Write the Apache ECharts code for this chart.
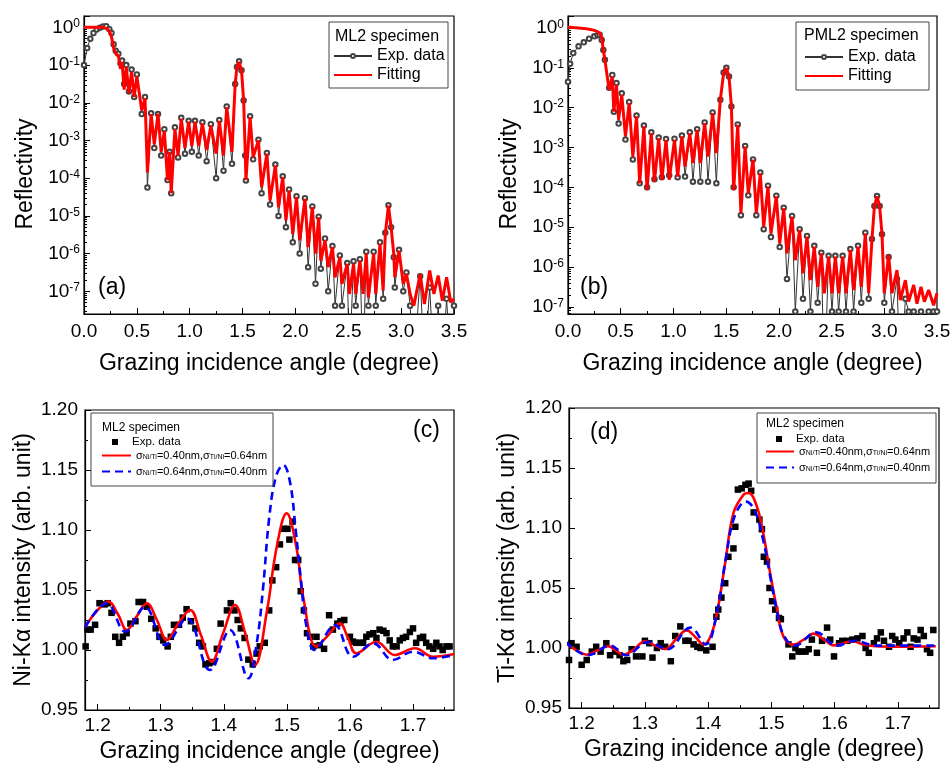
<!DOCTYPE html>
<html>
<head>
<meta charset="utf-8">
<script src="https://cdn.jsdelivr.net/npm/echarts@6/dist/echarts.min.js"></script>
<style>html,body{margin:0;background:#fff}#chart{width:950px;height:765px}</style>
</head>
<body>
<div id="chart"></div>
<script>
// (a) ML2 specimen reflectivity: angle (deg) and log10(R)
var mlAngle = [0.00,0.03,0.06,0.09,0.12,0.15,0.18,0.21,0.24,0.26,0.28,0.30,0.325,0.345,0.36,0.38,0.40,0.425,0.45,0.475,0.50,0.546,0.577,0.60,0.635,0.665,0.70,0.73,0.76,0.79,0.81,0.825,0.86,0.89,0.92,0.955,0.99,1.02,1.05,1.085,1.12,1.16,1.20,1.25,1.28,1.32,1.35,1.40,1.43,1.447,1.467,1.49,1.51,1.525,1.532,1.571,1.60,1.65,1.68,1.73,1.76,1.81,1.84,1.88,1.91,1.94,1.975,2.01,2.04,2.09,2.12,2.16,2.19,2.22,2.24,2.28,2.31,2.35,2.375,2.42,2.44,2.49,2.51,2.55,2.57,2.61,2.64,2.67,2.69,2.74,2.76,2.80,2.83,2.85,2.88,2.905,2.93,2.94,2.98,3.02,3.05,3.085,3.12,3.18,3.22,3.27,3.31,3.35,3.39,3.43,3.47,3.50];
var mlFitLog = [0,0,0,0,0,0,0,-0.02,-0.10,-0.25,-0.55,-0.70,-0.75,-1.10,-0.92,-1.65,-1.05,-1.75,-1.18,-1.85,-1.30,-2.20,-1.88,-3.85,-2.30,-3.10,-2.29,-3.30,-2.75,-4.05,-3.30,-4.40,-2.70,-3.40,-2.42,-3.20,-2.50,-3.15,-2.50,-3.15,-2.55,-3.25,-2.60,-3.35,-2.48,-3.40,-2.12,-3.30,-1.50,-1.05,-0.92,-1.14,-1.94,-3.30,-4.05,-2.38,-3.44,-3.00,-4.24,-3.35,-4.59,-3.66,-4.77,-3.97,-5.12,-4.33,-5.48,-4.50,-5.65,-4.55,-5.83,-4.77,-6.00,-5.04,-6.19,-5.65,-6.36,-5.83,-6.63,-6.10,-6.80,-6.27,-7.07,-6.27,-7.07,-6.19,-7.07,-6.00,-7.16,-6.00,-7.07,-5.74,-6.98,-5.48,-4.73,-5.30,-6.00,-6.63,-5.92,-6.80,-6.54,-7.07,-7.38,-6.54,-7.34,-6.45,-7.07,-6.58,-7.25,-6.63,-7.30,-7.20];
var mlExpLog = [-1.00,-0.55,-0.30,-0.15,-0.06,-0.01,0.02,0.03,-0.05,-0.15,-0.45,-0.62,-0.70,-0.95,-0.88,-1.50,-1.00,-1.70,-1.12,-1.85,-1.25,-2.30,-1.85,-4.25,-2.28,-3.20,-2.30,-3.40,-2.70,-4.05,-3.30,-4.40,-2.65,-3.45,-2.40,-3.35,-2.48,-3.30,-2.48,-3.40,-2.52,-3.55,-2.57,-4.00,-2.46,-3.80,-2.10,-3.62,-1.50,-1.05,-0.90,-1.14,-1.94,-3.40,-4.06,-2.36,-3.50,-2.98,-4.40,-3.33,-4.70,-3.64,-5.00,-3.95,-5.30,-4.30,-5.70,-4.48,-6.00,-4.53,-6.36,-4.75,-6.80,-5.02,-6.40,-5.60,-7.00,-5.80,-7.38,-6.05,-7.38,-6.25,-9,-6.20,-7.38,-6.15,-9,-5.95,-7.38,-5.95,-7.38,-5.70,-7.20,-5.45,-4.72,-5.30,-6.10,-6.90,-5.90,-7.00,-6.50,-7.38,-9,-6.60,-9,-6.90,-9,-7.38,-9,-7.20,-9,-7.38];

// (b) PML2 specimen reflectivity
var pmlAngle = [0.00,0.02,0.05,0.10,0.15,0.20,0.25,0.28,0.30,0.32,0.335,0.35,0.39,0.42,0.435,0.46,0.48,0.51,0.545,0.58,0.615,0.65,0.68,0.72,0.75,0.79,0.82,0.86,0.89,0.93,0.96,1.01,1.04,1.08,1.11,1.155,1.185,1.225,1.255,1.296,1.328,1.372,1.407,1.445,1.476,1.502,1.527,1.55,1.571,1.61,1.64,1.68,1.71,1.755,1.786,1.824,1.856,1.897,1.925,1.976,2.008,2.046,2.077,2.125,2.156,2.197,2.229,2.267,2.299,2.336,2.368,2.403,2.431,2.472,2.504,2.536,2.567,2.605,2.637,2.678,2.709,2.751,2.782,2.82,2.852,2.883,2.906,2.931,2.956,2.978,3.00,3.041,3.073,3.12,3.152,3.20,3.231,3.279,3.31,3.348,3.38,3.421,3.468,3.50];
var pmlFitLog = [0.02,0.02,0.01,0,-0.01,-0.03,-0.06,-0.09,-0.13,-0.25,-0.55,-0.80,-1.55,-1.22,-2.10,-1.42,-2.30,-1.68,-2.72,-1.89,-3.23,-2.22,-3.90,-2.47,-4.07,-2.64,-3.86,-2.77,-3.81,-2.81,-3.81,-2.81,-3.73,-2.72,-3.48,-2.64,-3.39,-2.56,-3.39,-2.39,-3.23,-2.14,-3.14,-1.80,-1.13,-1.01,-1.22,-1.97,-4.07,-2.43,-4.65,-2.98,-4.15,-3.31,-4.65,-3.65,-4.99,-3.98,-5.16,-4.23,-5.41,-4.53,-5.66,-4.74,-5.83,-5.07,-6.16,-5.24,-6.33,-5.49,-6.50,-5.66,-6.66,-5.74,-6.66,-5.74,-6.66,-5.74,-6.66,-5.57,-6.58,-5.49,-6.50,-5.16,-6.66,-5.32,-4.48,-4.23,-4.48,-5.16,-6.66,-5.70,-6.66,-6.08,-6.83,-6.33,-6.87,-6.45,-6.92,-6.50,-6.87,-6.58,-6.96,-6.66];
var pmlExpLog = [-1.35,-0.90,-0.63,-0.46,-0.36,-0.27,-0.21,-0.18,-0.17,-0.30,-0.55,-0.80,-1.50,-1.18,-2.10,-1.38,-2.40,-1.64,-2.80,-1.86,-3.30,-2.20,-3.90,-2.45,-4.00,-2.62,-3.80,-2.75,-3.75,-2.79,-3.70,-2.78,-3.75,-2.70,-3.73,-2.62,-3.86,-2.54,-3.86,-2.37,-3.86,-2.12,-3.90,-1.80,-1.12,-1.00,-1.22,-1.97,-4.00,-2.42,-4.70,-2.96,-4.20,-3.30,-4.70,-3.63,-5.05,-3.96,-5.25,-4.21,-5.50,-4.51,-6.30,-4.72,-7.12,-5.05,-6.80,-5.22,-7.12,-5.47,-6.90,-5.64,-9,-5.72,-7.12,-5.72,-7.12,-5.72,-7.12,-5.55,-7.12,-5.47,-6.90,-5.14,-6.80,-5.30,-4.47,-4.22,-4.47,-5.18,-6.90,-5.75,-7.12,-6.30,-9,-6.80,-7.12,-7.12,-9,-7.12,-9,-7.12,-7.12,-7.12];

// (c) Ni-Ka fluorescence: [angle, intensity]
var niExp = [[1.181,1.003],[1.184,1.017],[1.189,1.017],[1.196,1.021],[1.203,1.039],[1.211,1.038],[1.216,1.039],[1.222,1.031],[1.228,1.011],[1.234,1.006],[1.240,1.011],[1.246,1.014],[1.252,1.022],[1.260,1.024],[1.265,1.040],[1.272,1.040],[1.278,1.036],[1.285,1.026],[1.292,1.018],[1.298,1.011],[1.304,1.008],[1.311,1.003],[1.316,1.011],[1.321,1.021],[1.329,1.021],[1.335,1.027],[1.341,1.034],[1.348,1.024],[1.355,1.018],[1.361,1.006],[1.367,1.003],[1.371,0.988],[1.377,0.989],[1.383,0.990],[1.389,1.001],[1.395,1.022],[1.405,1.033],[1.411,1.039],[1.417,1.033],[1.422,1.025],[1.427,1.018],[1.433,1.010],[1.439,0.992],[1.446,0.988],[1.452,0.997],[1.457,1.003],[1.465,1.006],[1.472,1.033],[1.477,1.058],[1.483,1.069],[1.489,1.088],[1.495,1.101],[1.501,1.101],[1.504,1.092],[1.509,1.107],[1.513,1.075],[1.518,1.075],[1.522,1.049],[1.527,1.033],[1.532,1.014],[1.537,1.011],[1.542,1.003],[1.547,1.011],[1.552,1.004],[1.559,1.001],[1.567,1.029],[1.573,1.017],[1.580,1.022],[1.585,1.024],[1.591,1.025],[1.600,1.011],[1.605,1.007],[1.610,1.006],[1.616,1.006],[1.621,1.006],[1.626,1.011],[1.631,1.013],[1.637,1.014],[1.642,1.010],[1.647,1.017],[1.653,1.016],[1.658,1.014],[1.663,1.008],[1.668,1.003],[1.674,1.003],[1.679,1.008],[1.684,1.010],[1.689,1.011],[1.695,1.015],[1.700,1.018],[1.705,1.006],[1.711,1.010],[1.716,1.011],[1.721,1.006],[1.726,1.003],[1.732,1.001],[1.737,1.006],[1.742,1.003],[1.747,1.000],[1.753,1.003],[1.758,1.003]];
var niFit1 = [[1.180,1.019],[1.198,1.032],[1.2174,1.0403],[1.232,1.030],[1.2464,1.0167],[1.262,1.028],[1.278,1.0389],[1.294,1.025],[1.3097,1.0083],[1.328,1.022],[1.3466,1.0333],[1.364,1.012],[1.3809,0.9903],[1.399,1.014],[1.4178,1.0375],[1.434,1.014],[1.4495,0.9875],[1.468,1.031],[1.484,1.086],[1.4996,1.1139],[1.515,1.086],[1.526,1.044],[1.547,1.0028],[1.565,1.012],[1.584,1.0222],[1.597,1.010],[1.610,0.9972],[1.642,1.0069],[1.671,0.9958],[1.703,1.0014],[1.732,0.9944],[1.765,0.9967]];
var niFit2 = [[1.180,1.019],[1.2148,1.0389],[1.2438,1.0153],[1.275,1.036],[1.307,1.0042],[1.3413,1.0264],[1.378,0.9833],[1.41,1.0167],[1.439,0.9764],[1.452,1.005],[1.462,1.05],[1.472,1.11],[1.483,1.145],[1.4943,1.1542],[1.505,1.14],[1.514,1.10],[1.522,1.06],[1.531,1.02],[1.544,1.0],[1.576,1.0208],[1.605,0.9944],[1.637,1.0056],[1.668,0.9917],[1.70,0.9986],[1.732,0.9931],[1.765,0.9958]];

// (d) Ti-Ka fluorescence
var tiExp = [[1.180,0.990],[1.184,1.004],[1.192,1.001],[1.200,0.986],[1.208,0.990],[1.216,0.997],[1.223,1.001],[1.230,0.997],[1.239,1.004],[1.245,0.994],[1.253,0.997],[1.260,0.994],[1.266,0.989],[1.272,0.990],[1.279,0.999],[1.286,0.993],[1.296,0.993],[1.300,1.006],[1.307,1.004],[1.312,0.992],[1.319,1.000],[1.325,1.004],[1.332,1.001],[1.341,0.989],[1.348,1.010],[1.356,1.018],[1.364,1.006],[1.369,1.006],[1.377,1.003],[1.383,1.001],[1.388,1.000],[1.397,0.998],[1.407,1.001],[1.413,1.026],[1.416,1.032],[1.421,1.042],[1.427,1.054],[1.432,1.076],[1.440,1.083],[1.443,1.101],[1.447,1.132],[1.453,1.133],[1.459,1.136],[1.464,1.137],[1.468,1.131],[1.472,1.113],[1.481,1.107],[1.485,1.099],[1.488,1.076],[1.493,1.072],[1.497,1.050],[1.501,1.039],[1.506,1.032],[1.512,1.025],[1.515,1.024],[1.527,1.003],[1.533,0.993],[1.538,1.000],[1.543,0.997],[1.548,0.997],[1.554,0.997],[1.559,0.999],[1.564,1.007],[1.572,0.996],[1.580,1.006],[1.588,1.017],[1.593,1.007],[1.599,0.993],[1.607,1.004],[1.612,1.006],[1.620,1.006],[1.628,1.007],[1.636,1.008],[1.644,1.010],[1.649,1.000],[1.654,0.996],[1.662,1.004],[1.667,1.008],[1.673,1.013],[1.678,1.006],[1.686,1.001],[1.691,1.010],[1.696,1.007],[1.702,1.004],[1.709,1.008],[1.715,1.013],[1.720,1.001],[1.725,1.008],[1.731,1.007],[1.736,1.015],[1.741,1.010],[1.746,0.999],[1.751,0.996],[1.756,1.015]];
var tiFit1 = [[1.175,1.004],[1.192,0.998],[1.208,0.9944],[1.225,0.998],[1.242,1.0014],[1.254,0.998],[1.266,0.9944],[1.283,0.999],[1.300,1.0056],[1.316,1.002],[1.332,0.9992],[1.349,1.007],[1.366,1.0147],[1.380,1.009],[1.393,1.0028],[1.404,1.010],[1.414,1.029],[1.427,1.071],[1.440,1.1125],[1.456,1.1278],[1.464,1.1292],[1.477,1.118],[1.488,1.0931],[1.498,1.0625],[1.509,1.032],[1.519,1.0097],[1.535,1.0028],[1.551,1.007],[1.567,1.012],[1.583,1.007],[1.599,1.0022],[1.614,1.004],[1.628,1.0056],[1.645,1.003],[1.665,1.0014],[1.700,1.001],[1.760,1.0014]];
var tiFit2 = [[1.175,1.005],[1.210,0.994],[1.245,1.002],[1.270,0.994],[1.305,1.005],[1.335,0.999],[1.372,1.017],[1.396,1.003],[1.414,1.030],[1.428,1.075],[1.442,1.110],[1.460,1.122],[1.474,1.114],[1.487,1.090],[1.498,1.060],[1.509,1.030],[1.520,1.010],[1.537,1.002],[1.571,1.013],[1.603,1.002],[1.632,1.006],[1.665,1.002],[1.760,1.002]];

var xTicksHi = [1.2, 1.3, 1.4, 1.5, 1.6, 1.7];
var xMinorHi = [1.25, 1.35, 1.45, 1.55, 1.65, 1.75];

var FONT = 'Liberation Sans, Arial, sans-serif';

function toPairs(ang, lg) {
    return ang.map(function (a, i) { return [a, Math.pow(10, lg[i])]; });
}

var logMinor = [];
for (var n = -8; n <= 0; n++) {
    for (var k = 2; k <= 9; k++) logMinor.push(k * Math.pow(10, n));
}

function powLabel(v) {
    var e = Math.log10(v);
    var r = Math.round(e);
    if (Math.abs(e - r) > 1e-6) return '';
    return '{b|10}{s|' + r + '}';
}

var legendText = {
    aExp: 'Exp. data', aFit: 'Fitting',
    bExp: 'Exp. data', bFit: 'Fitting',
    cExp: 'Exp. data',
    cFit1: '{g|σ}{sub|Ni/Ti}{t|=0.40nm,}{g|σ}{sub|Ti/Ni}{t|=0.64nm}',
    cFit2: '{g|σ}{sub|Ni/Ti}{t|=0.64nm,}{g|σ}{sub|Ti/Ni}{t|=0.40nm}',
    dExp: 'Exp. data'
};
legendText.dFit1 = legendText.cFit1;
legendText.dFit2 = legendText.cFit2;

function reflX(gi) {
    return {
        type: 'value', gridIndex: gi, min: 0, max: 3.5, interval: 0.5,
        name: 'Grazing incidence angle (degree)', nameLocation: 'middle', nameGap: 38,
        nameTextStyle: {fontSize: 23, fontFamily: FONT, color: '#000'},
        axisLine: {lineStyle: {color: '#000', width: 1.2}},
        axisTick: {inside: true, length: 6, lineStyle: {color: '#000'}},
        minorTick: {show: true, splitNumber: 2, length: 3, lineStyle: {color: '#000'}},
        axisLabel: {fontSize: 19, fontFamily: FONT, color: '#000', margin: 8,
            formatter: function (v) { return v.toFixed(1); }},
        splitLine: {show: false}
    };
}
function reflY(gi, lo) {
    return {
        type: 'log', logBase: 10, gridIndex: gi, min: lo, max: 2,
        name: 'Reflectivity', nameLocation: 'middle', nameGap: 47,
        nameTextStyle: {fontSize: 23, fontFamily: FONT, color: '#000', padding: [0, 18, 0, 0]},
        axisLine: {lineStyle: {color: '#000', width: 1.2}},
        axisTick: {inside: true, length: 6, lineStyle: {color: '#000'}},
        axisLabel: {margin: 4, color: '#000', formatter: powLabel,
            rich: {b: {fontSize: 19, fontFamily: FONT, color: '#000'},
                   s: {fontSize: 12, fontFamily: FONT, color: '#000', verticalAlign: 'top'}}},
        splitLine: {show: false}
    };
}
function minorLogY(gi, lo) {
    return {
        type: 'log', logBase: 10, gridIndex: gi, min: lo, max: 2, position: 'left',
        axisLine: {show: false}, axisLabel: {show: false}, splitLine: {show: false},
        axisTick: {inside: true, length: 3, customValues: logMinor, lineStyle: {color: '#000'}}
    };
}
function fluoX(gi, gap) {
    return {
        type: 'value', gridIndex: gi, min: 1.18, max: 1.765,
        name: 'Grazing incidence angle (degree)', nameLocation: 'middle', nameGap: gap,
        nameTextStyle: {fontSize: 23, fontFamily: FONT, color: '#000'},
        axisLine: {lineStyle: {color: '#000', width: 1.2}},
        axisTick: {inside: true, length: 6, customValues: xTicksHi, lineStyle: {color: '#000'}},
        axisLabel: {fontSize: 19, fontFamily: FONT, color: '#000', margin: 6, customValues: xTicksHi,
            formatter: function (v) { return v.toFixed(1); }},
        splitLine: {show: false}
    };
}
function minorX(gi) {
    return {
        type: 'value', gridIndex: gi, min: 1.18, max: 1.765, position: 'bottom',
        axisLine: {show: false}, axisLabel: {show: false}, splitLine: {show: false},
        axisTick: {inside: true, length: 3, customValues: xMinorHi, lineStyle: {color: '#000'}}
    };
}
function fluoY(gi, title) {
    return {
        type: 'value', gridIndex: gi, min: 0.95, max: 1.20, interval: 0.05,
        name: title, nameLocation: 'middle', nameGap: 50,
        nameTextStyle: {fontSize: 23, fontFamily: FONT, color: '#000'},
        axisLine: {lineStyle: {color: '#000', width: 1.2}},
        axisTick: {inside: true, length: 6, lineStyle: {color: '#000'}},
        minorTick: {show: true, splitNumber: 2, length: 3, lineStyle: {color: '#000'}},
        axisLabel: {fontSize: 19, fontFamily: FONT, color: '#000', margin: 7,
            formatter: function (v) { return v.toFixed(2); }},
        splitLine: {show: false}
    };
}

function expLine(name, xi, data) {
    return {name: name, type: 'line', xAxisIndex: xi, yAxisIndex: xi, data: data,
        symbol: 'emptyCircle', symbolSize: 4.5, z: 2,
        lineStyle: {color: '#333', width: 1}, itemStyle: {color: '#444', borderWidth: 0.9}};
}
function fitLine(name, xi, yi, data, color, dashed, sm, w) {
    return {name: name, type: 'line', xAxisIndex: xi, yAxisIndex: yi, data: data,
        symbol: 'none', smooth: sm, z: 3,
        lineStyle: {color: color, width: w, type: dashed ? [8, 5] : 'solid'},
        itemStyle: {color: color}};
}
function expScatter(name, xi, yi, data) {
    return {name: name, type: 'scatter', xAxisIndex: xi, yAxisIndex: yi, data: data,
        symbol: 'rect', symbolSize: 6.5, z: 2, itemStyle: {color: '#000', opacity: 1}};
}

var richLeg = {
    t: {fontSize: 11, fontFamily: FONT, color: '#000'},
    g: {fontSize: 11, fontFamily: FONT, color: '#000'},
    sub: {fontSize: 7, fontFamily: FONT, color: '#000', verticalAlign: 'bottom'}
};
// fitted curves show a bare line in the legend, so their symbol is hidden
function legend(left, top, names, w, h, gap, fs, textPad) {
    return {left: left, top: top, orient: 'vertical', itemWidth: w, itemHeight: h, itemGap: gap,
        padding: 0, selectedMode: false,
        data: names.map(function (nm) {
            return /Fit/.test(nm) ? {name: nm, itemStyle: {opacity: 0}} : {name: nm};
        }),
        formatter: function (nm) { return legendText[nm]; },
        textStyle: {fontSize: fs, fontFamily: FONT, color: '#000', rich: richLeg,
            padding: [0, 0, 0, textPad || 0]}};
}

function box(x, y, w, h) {
    return {type: 'rect', shape: {x: x, y: y, width: w, height: h},
        style: {fill: 'none', stroke: '#444', lineWidth: 1}, z: 10};
}
function label(x, y, txt, fs) {
    return {type: 'text', x: x, y: y, z: 10,
        style: {text: txt, fontSize: fs, fontFamily: FONT, fill: '#000', verticalAlign: 'middle'}};
}

var chart = echarts.init(document.getElementById('chart'));
chart.setOption({
    animation: false,
    backgroundColor: '#fff',
    grid: [
        {left: 84, top: 16, width: 370, height: 298},
        {left: 568, top: 16, width: 369, height: 298},
        {left: 85, top: 410, width: 369, height: 300},
        {left: 569, top: 408, width: 370, height: 300}
    ].map(function (g) {
        g.show = true; g.borderColor = '#000'; g.borderWidth = 1.2; g.outerBoundsMode = 'none';
        return g;
    }),
    xAxis: [reflX(0), reflX(1), fluoX(2, 30), fluoX(3, 30), minorX(2), minorX(3)],
    yAxis: [reflY(0, 2.5e-8), reflY(1, 6.6e-8), fluoY(2, 'Ni-Kα intensity (arb. unit)'),
        fluoY(3, 'Ti-Kα intensity (arb. unit)'), minorLogY(0, 2.5e-8), minorLogY(1, 6.6e-8)],
    legend: [
        legend(333, 48, ['aExp', 'aFit'], 38, 5, 3, 16),
        legend(804, 49, ['bExp', 'bFit'], 38, 5, 3, 16),
        legend(112, 436, ['cExp'], 6, 6, 3, 11.5, 9),
        legend(101, 450, ['cFit1', 'cFit2'], 29, 7, 5, 11),
        legend(776, 433, ['dExp'], 6, 6, 3, 11.5, 9),
        legend(765, 446, ['dFit1', 'dFit2'], 28, 7, 5, 11)
    ],
    graphic: [
        box(329, 22, 119, 66), label(335, 37, 'ML2 specimen', 16),
        box(796, 22, 133, 68), label(804, 36, 'PML2 specimen', 16),
        box(91, 413, 182, 73), label(102, 428, 'ML2 specimen', 12),
        box(757, 413, 179, 70), label(766, 424, 'ML2 specimen', 12),
        label(98, 288, '(a)', 23), label(580, 288, '(b)', 23),
        label(413, 431, '(c)', 23), label(590, 433, '(d)', 23)
    ],
    series: [
        expLine('aExp', 0, toPairs(mlAngle, mlExpLog)),
        fitLine('aFit', 0, 0, toPairs(mlAngle, mlFitLog), '#ff0000', false, false, 3),
        expLine('bExp', 1, toPairs(pmlAngle, pmlExpLog)),
        fitLine('bFit', 1, 1, toPairs(pmlAngle, pmlFitLog), '#ff0000', false, false, 3),
        expScatter('cExp', 2, 2, niExp),
        fitLine('cFit1', 2, 2, niFit1, '#ff0000', false, 0.4, 2.6),
        fitLine('cFit2', 2, 2, niFit2, '#0000ff', true, 0.4, 2.6),
        expScatter('dExp', 3, 3, tiExp),
        fitLine('dFit1', 3, 3, tiFit1, '#ff0000', false, 0.4, 2.6),
        fitLine('dFit2', 3, 3, tiFit2, '#0000ff', true, 0.4, 2.6)
    ]
});
window.addEventListener('resize', function () { chart.resize(); });
</script>
</body>
</html>
